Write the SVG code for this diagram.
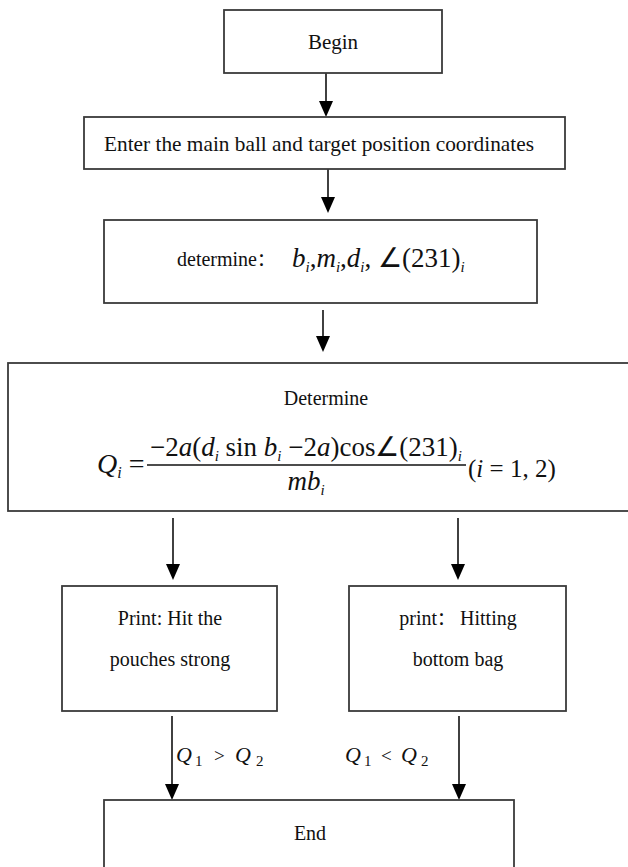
<svg xmlns="http://www.w3.org/2000/svg" width="628" height="867" viewBox="0 0 628 867">
<defs>
<style>
.box{fill:#fff;stroke:#3a3a3a;stroke-width:1.8}
.t{font-family:"Liberation Serif","Times New Roman",serif;fill:#111}
.m{font-family:"Liberation Serif","Times New Roman",serif;font-style:italic;fill:#111}
.c{stroke:#111;stroke-width:1.6;fill:none}
.h{fill:#000}
</style>
</defs>
<rect width="628" height="867" fill="#fff"/>
<g id="connectors">
<line class="c" x1="326" y1="73" x2="326" y2="101"/>
<path class="h" d="M319,101 L333,101 L326,117 Z"/>
<line class="c" x1="328" y1="169" x2="328" y2="197"/>
<path class="h" d="M321,197 L335,197 L328,213 Z"/>
<line class="c" x1="323" y1="310" x2="323" y2="336"/>
<path class="h" d="M316,336 L330,336 L323,352 Z"/>
<line class="c" x1="173" y1="518" x2="173" y2="564"/>
<path class="h" d="M166,564 L180,564 L173,580 Z"/>
<line class="c" x1="458" y1="518" x2="458" y2="564"/>
<path class="h" d="M451,564 L465,564 L458,580 Z"/>
<line class="c" x1="172" y1="716" x2="172" y2="784"/>
<path class="h" d="M165,784 L179,784 L172,800 Z"/>
<line class="c" x1="459" y1="716" x2="459" y2="784"/>
<path class="h" d="M452,784 L466,784 L459,800 Z"/>
<text class="m" y="762" font-size="22"><tspan x="176">Q</tspan><tspan x="195" dy="4" font-size="15" font-style="normal">1</tspan><tspan x="214" dy="-4" font-size="19" font-style="normal">&gt;</tspan><tspan x="235">Q</tspan><tspan x="256" dy="4" font-size="15" font-style="normal">2</tspan></text>
<text class="m" y="762" font-size="22"><tspan x="345">Q</tspan><tspan x="364" dy="4" font-size="15" font-style="normal">1</tspan><tspan x="381" dy="-4" font-size="19" font-style="normal">&lt;</tspan><tspan x="401">Q</tspan><tspan x="421" dy="4" font-size="15" font-style="normal">2</tspan></text>
</g>
<g id="begin">
<rect class="box" x="224" y="10" width="218" height="63"/>
<text class="t" x="333" y="49" font-size="21" text-anchor="middle">Begin</text>
</g>
<g id="enter">
<rect class="box" x="84" y="117" width="481" height="52"/>
<text class="t" x="319" y="151" font-size="21" text-anchor="middle" textLength="430" lengthAdjust="spacingAndGlyphs">Enter the main ball and target position coordinates</text>
</g>
<g id="determine1">
<rect class="box" x="104" y="220" width="433" height="83"/>
<text class="t" x="177" y="266" font-size="20">determine<tspan font-family="'Noto Sans CJK SC',sans-serif" font-size="18">：</tspan></text>
<text class="m" x="292" y="267" font-size="27">b<tspan font-size="15" dy="5">i</tspan><tspan dy="-5" font-style="normal">,</tspan>m<tspan font-size="15" dy="5">i</tspan><tspan dy="-5" font-style="normal">,</tspan>d<tspan font-size="15" dy="5">i</tspan><tspan dy="-5" font-style="normal">, ∠(231)</tspan><tspan font-size="15" dy="5">i</tspan></text>
</g>
<g id="determine2">
<rect class="box" x="8" y="363" width="640" height="148"/>
<text class="t" x="326" y="405" font-size="20" text-anchor="middle">Determine</text>
<text class="m" x="97" y="473" font-size="28">Q<tspan font-size="16" dy="5">i</tspan><tspan dy="-5" font-style="normal"> =</tspan></text>
<text class="t" x="150" y="456" font-size="27" textLength="312" lengthAdjust="spacingAndGlyphs">−2<tspan font-style="italic">a</tspan>(<tspan font-style="italic">d</tspan><tspan font-style="italic" font-size="15" dy="5">i</tspan><tspan dy="-5"> sin </tspan><tspan font-style="italic">b</tspan><tspan font-style="italic" font-size="15" dy="5">i</tspan><tspan dy="-5"> −2</tspan><tspan font-style="italic">a</tspan>)cos∠(231)<tspan font-style="italic" font-size="15" dy="5">i</tspan></text>
<line x1="147" y1="465" x2="466" y2="465" stroke="#111" stroke-width="1.3"/>
<text class="m" x="306" y="490" font-size="27" text-anchor="middle">mb<tspan font-size="15" dy="5">i</tspan></text>
<text class="t" x="468" y="477" font-size="25">(<tspan font-style="italic">i</tspan> = 1, 2)</text>
</g>
<g id="print1">
<rect class="box" x="62" y="586" width="215" height="125"/>
<text class="t" x="170" y="625" font-size="20" text-anchor="middle">Print: Hit the</text>
<text class="t" x="170" y="666" font-size="20" text-anchor="middle">pouches strong</text>
</g>
<g id="print2">
<rect class="box" x="349" y="586" width="217" height="125"/>
<text class="t" x="458" y="625" font-size="20" text-anchor="middle">print<tspan font-family="'Noto Sans CJK SC',sans-serif" font-size="18">：</tspan> Hitting</text>
<text class="t" x="458" y="666" font-size="20" text-anchor="middle">bottom bag</text>
</g>
<g id="end">
<rect class="box" x="104" y="800" width="410" height="80"/>
<text class="t" x="310" y="840" font-size="20" text-anchor="middle">End</text>
</g>
</svg>
